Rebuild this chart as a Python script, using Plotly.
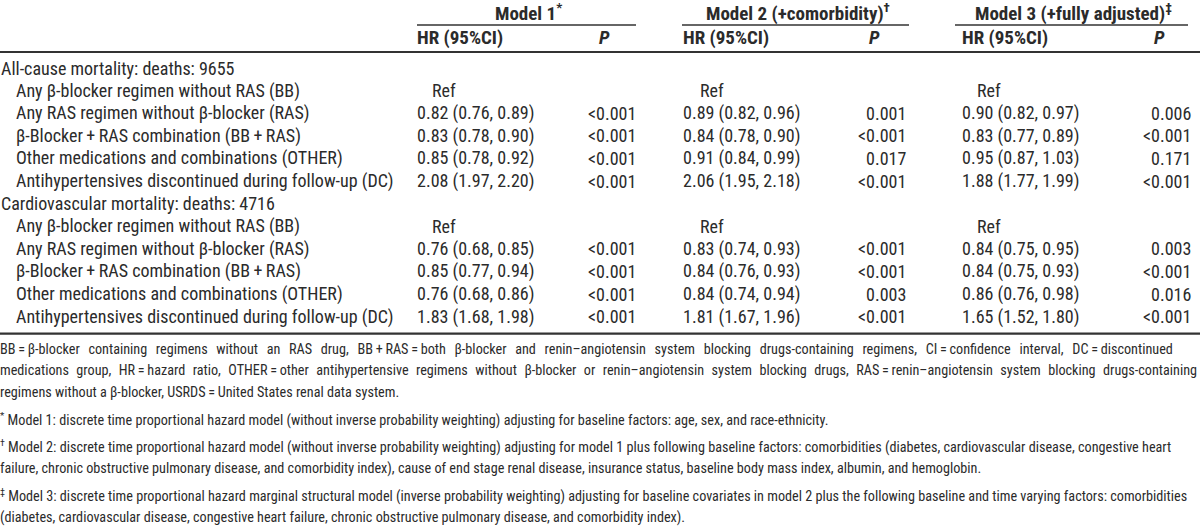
import plotly.graph_objects as go

# ---------------- data ----------------
model_headers = ["Model 1<sup>*</sup>", "Model 2 (+comorbidity)<sup>†</sup>", "Model 3 (+fully adjusted)<sup>‡</sup>"]
col_headers = ["HR (95%CI)", "<i>P</i>"]

group1_title = "All-cause mortality: deaths: 9655"
group2_title = "Cardiovascular mortality: deaths: 4716"

row_labels = [
    "Any β-blocker regimen without RAS (BB)",
    "Any RAS regimen without β-blocker (RAS)",
    "β-Blocker\u2009+\u2009RAS combination (BB\u2009+\u2009RAS)",
    "Other medications and combinations (OTHER)",
    "Antihypertensives discontinued during follow-up (DC)",
]

g1_hr_m1 = ["Ref", "0.82 (0.76, 0.89)", "0.83 (0.78, 0.90)", "0.85 (0.78, 0.92)", "2.08 (1.97, 2.20)"]
g1_p_m1 = ["", "<0.001", "<0.001", "<0.001", "<0.001"]
g1_hr_m2 = ["Ref", "0.89 (0.82, 0.96)", "0.84 (0.78, 0.90)", "0.91 (0.84, 0.99)", "2.06 (1.95, 2.18)"]
g1_p_m2 = ["", "0.001", "<0.001", "0.017", "<0.001"]
g1_hr_m3 = ["Ref", "0.90 (0.82, 0.97)", "0.83 (0.77, 0.89)", "0.95 (0.87, 1.03)", "1.88 (1.77, 1.99)"]
g1_p_m3 = ["", "0.006", "<0.001", "0.171", "<0.001"]

g2_hr_m1 = ["Ref", "0.76 (0.68, 0.85)", "0.85 (0.77, 0.94)", "0.76 (0.68, 0.86)", "1.83 (1.68, 1.98)"]
g2_p_m1 = ["", "<0.001", "<0.001", "<0.001", "<0.001"]
g2_hr_m2 = ["Ref", "0.83 (0.74, 0.93)", "0.84 (0.76, 0.93)", "0.84 (0.74, 0.94)", "1.81 (1.67, 1.96)"]
g2_p_m2 = ["", "<0.001", "<0.001", "0.003", "<0.001"]
g2_hr_m3 = ["Ref", "0.84 (0.75, 0.95)", "0.84 (0.75, 0.93)", "0.86 (0.76, 0.98)", "1.65 (1.52, 1.80)"]
g2_p_m3 = ["", "0.003", "<0.001", "0.016", "<0.001"]

footnotes = [
    "BB\u2009=\u2009β-blocker containing regimens without an RAS drug, BB\u2009+\u2009RAS\u2009=\u2009both β-blocker and renin–angiotensin system blocking drugs-containing regimens, CI\u2009=\u2009confidence interval, DC\u2009=\u2009discontinued",
    "medications group, HR\u2009=\u2009hazard ratio, OTHER\u2009=\u2009other antihypertensive regimens without β-blocker or renin–angiotensin system blocking drugs, RAS\u2009=\u2009renin–angiotensin system blocking drugs-containing",
    "regimens without a β-blocker, USRDS\u2009=\u2009United States renal data system.",
    "<sup>*</sup> Model 1: discrete time proportional hazard model (without inverse probability weighting) adjusting for baseline factors: age, sex, and race-ethnicity.",
    "<sup>†</sup> Model 2: discrete time proportional hazard model (without inverse probability weighting) adjusting for model 1 plus following baseline factors: comorbidities (diabetes, cardiovascular disease, congestive heart",
    "failure, chronic obstructive pulmonary disease, and comorbidity index), cause of end stage renal disease, insurance status, baseline body mass index, albumin, and hemoglobin.",
    "<sup>‡</sup> Model 3: discrete time proportional hazard marginal structural model (inverse probability weighting) adjusting for baseline covariates in model 2 plus the following baseline and time varying factors: comorbidities",
    "(diabetes, cardiovascular disease, congestive heart failure, chronic obstructive pulmonary disease, and comorbidity index).",
]
footnote_gap_before = [0, 0, 0, 1, 1, 0, 1, 0]
# extra inter-word padding used to imitate the justified lines of the source
footnote_pad = ["\u2009\u2009", "\u2009\u200a", "", "", "", "", "", ""]

# ---------------- layout helpers ----------------
W, H = 1200, 531
FONT = "Roboto Condensed, Roboto, sans-serif"
TXT = "#2b2b2b"
BODY = 18
HEAD = 19
FOOT = 14.2


def X(px):
    return px / W


def Y(px):
    return 1 - px / H


def esc(s):
    return s.replace("<0", "&lt;0")


ann = []


def text(x, y, s, anchor="left", size=BODY, bold=False):
    ann.append(dict(
        x=X(x), y=Y(y), xref="paper", yref="paper", text=("<b>%s</b>" % s) if bold else s,
        showarrow=False, xanchor=anchor, yanchor="middle", align=anchor,
        borderpad=0, borderwidth=0,
        font=dict(family=FONT, size=size, color=TXT),
    ))


shapes = []


def hline(x0, x1, y, w=1.3):
    shapes.append(dict(type="line", xref="paper", yref="paper", x0=X(x0), x1=X(x1),
                       y0=Y(y), y1=Y(y), line=dict(color="#333333", width=w)))


# column geometry
model_spans = [(417, 636), (682, 909), (955, 1188)]
hr_left = [417, 683, 962]
ref_left = [432, 700, 977]
p_right = [636, 906, 1191]

y_model = 12.5
y_rule1 = 25
y_colhdr = 38
y_rule2 = 52
row0 = 68
step = 22.6

for (a, b), hdr in zip(model_spans, model_headers):
    text((a + b) / 2 + 2, y_model, hdr, anchor="center", size=HEAD, bold=True)
    hline(a, b, y_rule1, 1.3)
for i in range(3):
    text(hr_left[i], y_colhdr, col_headers[0], size=HEAD, bold=True)
    text(p_right[i] - 32, y_colhdr, col_headers[1], anchor="center", size=HEAD, bold=True)
hline(0, 1200, y_rule2, 2.2)

groups = [
    (group1_title, [g1_hr_m1, g1_hr_m2, g1_hr_m3], [g1_p_m1, g1_p_m2, g1_p_m3]),
    (group2_title, [g2_hr_m1, g2_hr_m2, g2_hr_m3], [g2_p_m1, g2_p_m2, g2_p_m3]),
]
r = 0
for title, hrs, ps in groups:
    text(1, row0 + r * step, title)
    r += 1
    for j, lab in enumerate(row_labels):
        y = row0 + r * step
        text(16, y, lab)
        for m in range(3):
            v = hrs[m][j]
            if v == "Ref":
                text(ref_left[m], y, v)
            else:
                text(hr_left[m], y, v)
            if ps[m][j]:
                text(p_right[m], y, esc(ps[m][j]), anchor="right")
        r += 1

y_bottom = row0 + (r - 1) * step + 17
hline(0, 1200, y_bottom, 2.2)

fy = y_bottom + 15
fstep = 21.5
for s, g, pad in zip(footnotes, footnote_gap_before, footnote_pad):
    if g:
        fy += 6
    if pad:
        s = s.replace(" ", " " + pad)
    text(0, fy, s, size=FOOT)
    fy += fstep

fig = go.Figure()
fig.update_layout(
    width=W, height=H, margin=dict(l=0, r=0, t=0, b=0),
    paper_bgcolor="white", plot_bgcolor="white",
    xaxis=dict(visible=False, range=[0, 1]), yaxis=dict(visible=False, range=[0, 1]),
    annotations=ann, shapes=shapes, showlegend=False,
)
fig.write_html("out.html", config={"displayModeBar": False},
               post_script="document.body.style.margin='0';")
